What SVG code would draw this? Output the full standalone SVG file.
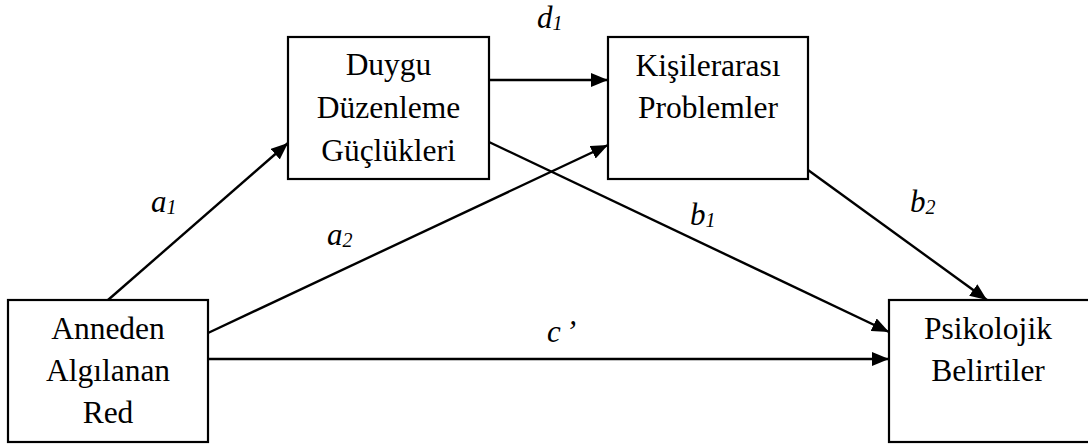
<svg xmlns="http://www.w3.org/2000/svg" width="1088" height="445" viewBox="0 0 1088 445">
<style>
.box{fill:#fff;stroke:#000;stroke-width:2.2}
.t{font-family:"Liberation Serif","Times New Roman",serif;font-size:31.5px;fill:#000;text-anchor:middle}
.lab{font-family:"Liberation Serif","Times New Roman",serif;font-size:31px;font-style:italic;fill:#000}
.sub{font-size:20px}
.c line{stroke:#000;stroke-width:2.4;marker-end:url(#ah)}
</style>
<defs>
<marker id="ah" markerUnits="userSpaceOnUse" markerWidth="18" markerHeight="14" refX="17" refY="7" orient="auto">
<path d="M0,0 L17,7 L0,14 z" fill="#000"/>
</marker>
</defs>
<rect width="1088" height="445" fill="#fff"/>
<g class="c" id="connectors">
<line x1="108" y1="300" x2="288" y2="143"/>
<line x1="489" y1="80" x2="608" y2="80"/>
<line x1="208" y1="333" x2="608" y2="145"/>
<line x1="489" y1="142" x2="889" y2="332"/>
<line x1="808" y1="170" x2="987" y2="300"/>
<line x1="208" y1="359" x2="889" y2="359"/>
</g>
<g id="labels">
<text class="lab" x="537" y="28">d<tspan class="sub" dy="2">1</tspan></text>
<text class="lab" x="151" y="212">a<tspan class="sub" dy="2">1</tspan></text>
<text class="lab" x="327" y="245">a<tspan class="sub" dy="2">2</tspan></text>
<text class="lab" x="690" y="225">b<tspan class="sub" dy="2">1</tspan></text>
<text class="lab" x="910" y="212">b<tspan class="sub" dy="2">2</tspan></text>
<text class="lab" x="547" y="342">c<tspan dx="5">’</tspan></text>
</g>
<g id="node-anneden">
<rect class="box" x="8" y="300" width="200" height="142"/>
<text class="t" x="108" y="339">Anneden</text>
<text class="t" x="108" y="381">Algılanan</text>
<text class="t" x="108" y="423">Red</text>
</g>
<g id="node-duygu">
<rect class="box" x="288" y="37" width="201" height="142"/>
<text class="t" x="388.5" y="75">Duygu</text>
<text class="t" x="388.5" y="118">Düzenleme</text>
<text class="t" x="388.5" y="161">Güçlükleri</text>
</g>
<g id="node-kisilerarasi">
<rect class="box" x="608" y="37" width="200" height="142"/>
<text class="t" x="708" y="76">Kişilerarası</text>
<text class="t" x="708" y="118">Problemler</text>
</g>
<g id="node-psikolojik">
<rect class="box" x="889" y="300" width="201" height="142"/>
<text class="t" x="988" y="339">Psikolojik</text>
<text class="t" x="988" y="381">Belirtiler</text>
</g>
</svg>
